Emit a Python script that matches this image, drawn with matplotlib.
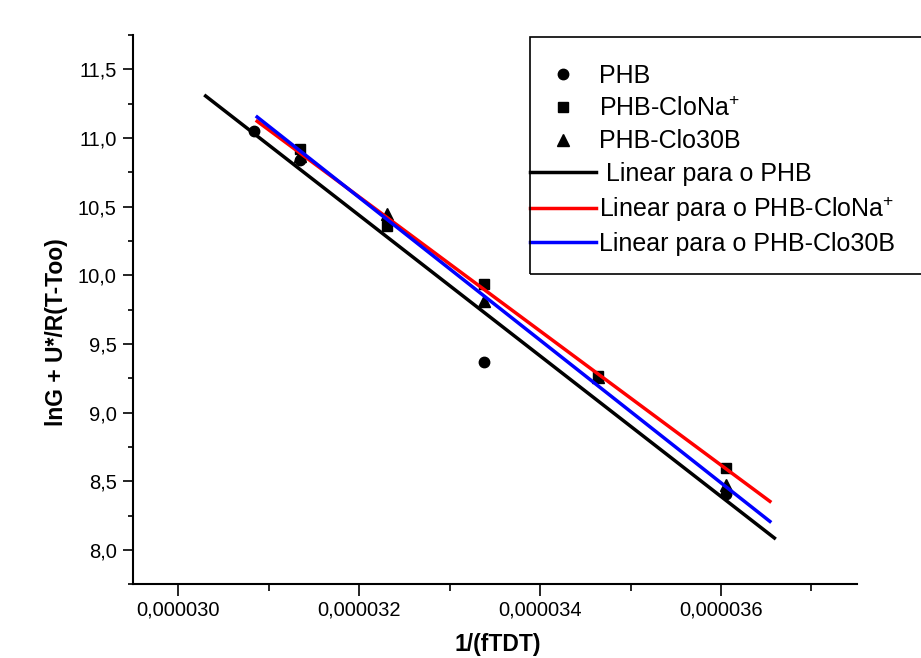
import numpy as np
import matplotlib
matplotlib.use('Agg')
import matplotlib.pyplot as plt
from matplotlib.ticker import MultipleLocator, FuncFormatter
from matplotlib.patches import Rectangle

plt.rcParams['font.family'] = ['Liberation Sans', 'DejaVu Sans']
plt.rcParams['mathtext.fontset'] = 'custom'
plt.rcParams['mathtext.rm'] = 'Liberation Sans'
plt.rcParams['mathtext.it'] = 'Liberation Sans:italic'
plt.rcParams['mathtext.bf'] = 'Liberation Sans:bold'

# data (x in units of 1e-6)
x_phb = np.array([30.83, 31.34, 33.38, 36.05]) * 1e-6
y_phb = np.array([11.05, 10.84, 9.37, 8.41])

x_clona = np.array([31.34, 32.31, 33.38, 34.64, 36.05]) * 1e-6
y_clona = np.array([10.92, 10.36, 9.94, 9.27, 8.60])

x_clo30b = np.array([31.34, 32.31, 33.38, 34.64, 36.05]) * 1e-6
y_clo30b = np.array([10.87, 10.45, 9.81, 9.26, 8.47])

# linear fit lines (end points)
fit_x_phb = np.array([30.30, 36.59]) * 1e-6
fit_y_phb = np.array([11.306, 8.087])
fit_x_clona = np.array([30.87, 36.54]) * 1e-6
fit_y_clona = np.array([11.122, 8.354])
fit_x_clo30b = np.array([30.87, 36.54]) * 1e-6
fit_y_clo30b = np.array([11.153, 8.208])

fig = plt.figure(figsize=(9.21, 6.58), dpi=100)
ax = fig.add_axes([0.1447, 0.112, 0.7855, 0.8348])

ax.plot(x_phb, y_phb, 'o', color='black', ms=7.5, ls='none', label='PHB')
ax.plot(x_clona, y_clona, 's', color='black', ms=7, ls='none', label='PHB-CloNa$^{+}$')
ax.plot(x_clo30b, y_clo30b, '^', color='black', ms=9, ls='none', label='PHB-Clo30B')

ax.plot(fit_x_phb, fit_y_phb, color='black', lw=2.5, label=' Linear para o PHB')
ax.plot(fit_x_clona, fit_y_clona, color='red', lw=2.5, label='Linear para o PHB-CloNa$^{+}$')
ax.plot(fit_x_clo30b, fit_y_clo30b, color='blue', lw=2.5, label='Linear para o PHB-Clo30B')

ax.set_xlim(29.5e-6, 37.5e-6)
ax.set_ylim(7.75, 11.75)

ax.xaxis.set_major_locator(MultipleLocator(2e-6))
ax.xaxis.set_minor_locator(MultipleLocator(1e-6))
ax.yaxis.set_major_locator(MultipleLocator(0.5))
ax.yaxis.set_minor_locator(MultipleLocator(0.25))
ax.xaxis.set_major_formatter(FuncFormatter(lambda v, p: f'{v:.6f}'.replace('.', ',')))
ax.yaxis.set_major_formatter(FuncFormatter(lambda v, p: f'{v:.1f}'.replace('.', ',')))

for s in ['top', 'right']:
    ax.spines[s].set_visible(False)
for s in ['left', 'bottom']:
    ax.spines[s].set_linewidth(1.5)

ax.tick_params(axis='x', which='major', direction='out', length=8.5, width=1.2, labelsize=14.5, pad=3.5)
ax.tick_params(axis='x', which='minor', direction='out', length=5, width=1.2)
ax.tick_params(axis='y', which='major', direction='out', length=7, width=1.2, labelsize=14.5, pad=5)
ax.tick_params(axis='y', which='minor', direction='out', length=3.6, width=1.2)

ax.set_xlabel('1/(fTDT)', fontsize=16.5, fontweight='bold', va='top')
ax.xaxis.set_label_coords(0.504, -0.088)
ax.set_ylabel('lnG + U*/R(T-Too)', fontsize=16.5, fontweight='bold', va='center')
ax.yaxis.set_label_coords(-0.1055, 0.459)

leg = ax.legend(loc='upper left', bbox_to_anchor=(530 / 921, 1 - 64 / 658),
                bbox_transform=fig.transFigure, frameon=False, fontsize=18,
                borderpad=0, borderaxespad=0, handlelength=2.65, handletextpad=0.1,
                labelspacing=0.34, numpoints=1)

fig.add_artist(Rectangle((530 / 921, 1 - 274 / 658), 420 / 921, 237 / 658,
                         transform=fig.transFigure, fill=False, lw=1.2, color='black'))

fig.savefig('out.png', dpi=100)
